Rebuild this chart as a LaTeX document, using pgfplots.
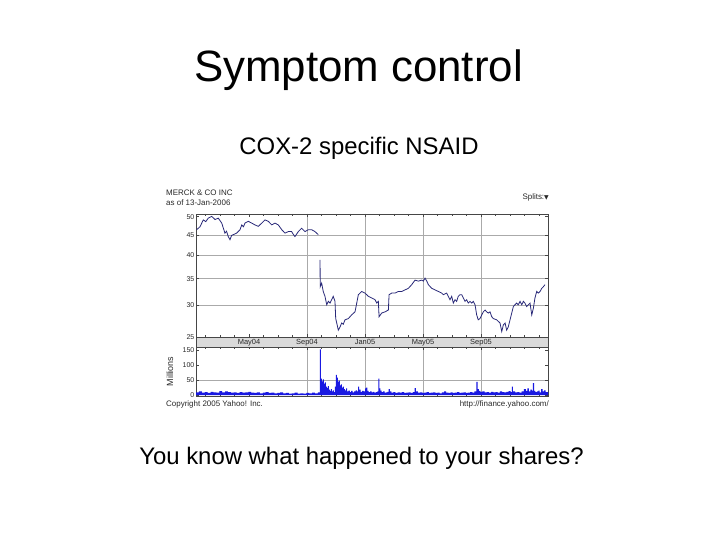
\documentclass[border=0pt]{standalone}
\usepackage{pgfplots}
\pgfplotsset{compat=1.18}
\usepackage{fontspec}
\setmainfont{Liberation Sans}
\newfontfamily\symfont{DejaVu Sans}
\definecolor{priceline}{RGB}{40,40,120}
\definecolor{volblue}{RGB}{25,25,225}
\definecolor{gridgray}{RGB}{170,170,170}
\definecolor{bandgray}{RGB}{218,218,218}
\definecolor{framec}{RGB}{70,70,70}
\definecolor{txtc}{RGB}{40,40,40}

\begin{document}
\begin{tikzpicture}
\path[use as bounding box] (0bp,0bp) rectangle (720bp,540bp);
% slide texts
\node[anchor=base,inner sep=0pt,font=\fontsize{44}{50}\selectfont] at (358.5bp,458bp) {Symptom control};
\node[anchor=base,inner sep=0pt,font=\fontsize{24}{28}\selectfont] at (359bp,385bp) {COX-2 specific NSAID};
\node[anchor=base,inner sep=0pt,font=\fontsize{24}{28}\selectfont] at (361.5bp,75bp) {You know what happened to your shares?};
% chart texts
\node[anchor=west,inner sep=0pt,text=txtc,font=\fontsize{8}{9}\selectfont] at (166bp,347bp) {MERCK \& CO INC};
\node[anchor=west,inner sep=0pt,text=txtc,font=\fontsize{8}{9}\selectfont] at (166bp,337bp) {as of 13-Jan-2006};
\node[anchor=east,inner sep=0pt,text=txtc,font=\fontsize{8}{9}\selectfont] at (549bp,343bp) {Splits:{\symfont\fontsize{6}{7}\selectfont▼}};
\node[anchor=west,inner sep=0pt,text=txtc,font=\fontsize{8}{9}\selectfont] at (166bp,136bp) {Copyright 2005 Yahoo! Inc.};
\node[anchor=east,inner sep=0pt,text=txtc,font=\fontsize{8}{9}\selectfont] at (549bp,136bp) {http://finance.yahoo.com/};
% date band
\fill[bandgray] (196bp,193bp) rectangle (548bp,203bp);
\draw[framec,line width=0.8bp] (196bp,193bp) rectangle (548bp,203bp);

\begin{axis}[
  at={(196bp,203bp)}, anchor=south west, scale only axis,
  width=352bp, height=123bp,
  xmin=0.345, xmax=24.62, ymode=log, ymin=25, ymax=50.8,
  ytick={25,30,35,40,45,50}, yticklabels={25,30,35,40,45,50},
  xtick={4,8,12,16,20}, xticklabels={May04,Sep04,Jan05,May05,Sep05},
  minor xtick={1,2,3,5,6,7,9,10,11,13,14,15,17,18,19,21,22,23,24},
  extra x ticks={8,12,16,20}, extra x tick labels={},
  extra x tick style={grid=major},
  extra y ticks={30,35,40,45}, extra y tick labels={},
  extra y tick style={grid=major},
  grid style={gridgray, line width=0.9bp},
  axis line style={framec, line width=0.8bp},
  tick style={framec, line width=0.5bp},
  major tick length=3bp, minor tick length=2bp,
  tick align=inside,
  yticklabel style={font=\fontsize{7}{8}\selectfont, text=txtc, inner sep=1.5bp},
  xticklabel style={font=\fontsize{7.5}{8}\selectfont, text=txtc, inner sep=0pt, yshift=-2bp},
  /pgf/number format/assume math mode=true,
]
\addplot[priceline, line width=0.8bp] coordinates {
(0.39,46.4) (0.62,47.2) (0.85,49.1) (1.02,48.6) (1.19,49.6) (1.43,50.1) (1.66,49.2) (1.88,49.6)
(2.12,48.2) (2.34,45.5) (2.45,46.0) (2.57,44.6) (2.69,43.8) (2.80,44.9) (2.92,45.1) (3.15,45.5)
(3.38,46.4) (3.50,47.7) (3.62,47.2) (3.72,48.2) (3.95,48.7) (4.19,48.2) (4.41,47.7) (4.64,47.3)
(4.88,48.2) (5.10,49.1) (5.33,48.7) (5.57,47.7) (5.79,48.2) (6.02,47.7) (6.26,46.4) (6.48,45.5)
(6.71,45.9) (6.94,45.9) (7.05,45.2) (7.17,44.6) (7.40,45.9) (7.63,46.8) (7.86,45.9) (8.09,46.4)
(8.32,46.4) (8.55,45.9) (8.66,45.5) (8.78,45.1)
};
\addplot[priceline, line width=0.8bp] coordinates {
(8.90,39.0) (8.91,33.4) (9.01,34.1) (9.12,32.5) (9.24,31.6) (9.36,30.1) (9.47,30.7) (9.59,30.4)
(9.70,31.0) (9.81,31.6) (9.93,30.7) (9.98,27.8) (10.05,27.1) (10.16,26.0) (10.28,26.5) (10.39,27.1)
(10.50,26.9) (10.62,27.6) (10.85,27.8) (11.08,28.4) (11.31,28.9) (11.43,30.4) (11.54,31.9) (11.77,32.5)
(12.00,32.2) (12.23,31.6) (12.46,31.3) (12.69,31.0) (12.81,30.4) (12.92,30.7) (12.97,28.1) (13.15,28.7)
(13.38,28.9) (13.61,29.2) (13.66,31.9) (13.84,32.2) (14.07,32.2) (14.30,32.5) (14.53,32.5) (14.76,32.8)
(14.99,33.1) (15.22,33.8) (15.45,34.7) (15.68,34.5) (15.91,34.7) (16.02,34.5) (16.14,35.1) (16.26,34.5)
(16.37,33.8) (16.60,33.1) (16.83,32.8) (17.06,32.5) (17.29,32.2) (17.40,31.9) (17.63,32.2) (17.86,31.0)
(17.98,31.6) (18.09,30.4) (18.21,31.0) (18.32,30.7) (18.43,31.6) (18.55,31.9) (18.67,31.9) (18.78,31.3)
(18.90,30.7) (19.01,31.0) (19.12,30.4) (19.24,30.7) (19.36,30.4) (19.47,30.7) (19.59,30.1) (19.70,28.4)
(19.81,27.6) (19.93,27.8) (20.05,28.4) (20.16,28.9) (20.28,29.2) (20.39,28.9) (20.50,28.7) (20.62,28.9)
(20.74,28.1) (20.85,27.8) (21.08,27.6) (21.31,27.1) (21.43,25.8) (21.54,26.8) (21.66,27.1) (21.77,26.0)
(21.88,26.5) (22.00,27.6) (22.12,28.7) (22.23,29.8) (22.34,30.1) (22.46,30.4) (22.57,30.1) (22.69,30.7)
(22.81,30.1) (22.92,30.7) (23.03,30.4) (23.15,29.8) (23.26,30.1) (23.38,30.4) (23.50,28.4) (23.61,29.5)
(23.72,31.3) (23.84,32.5) (23.95,32.2) (24.07,32.5) (24.19,33.1) (24.30,33.4) (24.41,33.8)
};
\end{axis}

\begin{axis}[
  at={(196bp,144bp)}, anchor=south west, scale only axis,
  width=352bp, height=49bp,
  xmin=0.345, xmax=24.62, ymin=-3, ymax=160,
  ytick={0,50,100,150},
  xtick={8,12,16,20}, xticklabels={}, xmajorgrids,
  minor xtick={1,2,3,4,5,6,7,9,10,11,13,14,15,17,18,19,21,22,23,24},
  extra y ticks={50}, extra y tick labels={}, extra y tick style={grid=major},
  grid style={gridgray, line width=0.9bp},
  axis line style={framec, line width=0.8bp},
  tick style={framec, line width=0.5bp},
  major tick length=3bp, minor tick length=2bp,
  tick align=inside,
  yticklabel style={font=\fontsize{7}{8}\selectfont, text=txtc, inner sep=1.5bp},
  /pgf/number format/assume math mode=true,
  ylabel={Millions},
  ylabel style={at={(axis description cs:-0.074,0.5)}, anchor=center, font=\fontsize{9}{10}\selectfont, text=txtc, inner sep=0pt},
]
\addplot[const plot, fill=volblue, draw=none] coordinates {
(0.35,9) (0.55,12) (0.75,8) (0.95,10) (1.15,7) (1.35,11) (1.55,9) (1.75,8) (1.95,13) (2.15,9)
(2.35,12) (2.55,10) (2.75,8) (2.95,9) (3.15,7) (3.35,10) (3.55,8) (3.75,9) (3.95,11) (4.15,8)
(4.35,7) (4.55,9) (4.75,6) (4.95,8) (5.15,10) (5.35,7) (5.55,8) (5.75,6) (5.95,7) (6.15,9)
(6.35,6) (6.55,7) (6.75,5) (6.95,6) (7.15,8) (7.35,5) (7.55,6) (7.75,5) (7.95,7) (8.15,6)
(8.35,8) (8.55,6) (8.75,9)
(8.88,152) (8.95,55) (9.02,46) (9.09,52) (9.16,38) (9.23,42) (9.30,28) (9.37,24) (9.44,30) (9.51,18)
(9.58,14) (9.65,20) (9.72,12) (9.79,16) (9.86,10) (9.93,28) (9.99,67) (10.06,58) (10.13,45) (10.20,48)
(10.27,32) (10.34,36) (10.41,25) (10.48,28) (10.55,20) (10.62,16) (10.69,22) (10.76,12) (10.85,15) (10.95,10)
(11.05,14) (11.15,9) (11.25,12) (11.35,16) (11.45,12) (11.52,28) (11.60,18) (11.70,11) (11.80,14) (11.90,12)
(12.00,22) (12.08,25) (12.16,14) (12.25,10) (12.35,12) (12.45,9) (12.55,11) (12.65,8) (12.75,10) (12.85,12)
(12.92,55) (12.99,22) (13.06,15) (13.15,10) (13.25,12) (13.35,8) (13.45,9) (13.55,11) (13.63,20) (13.72,12)
(13.82,8) (13.95,10) (14.10,7) (14.25,9) (14.40,8) (14.55,10) (14.70,7) (14.85,8) (15.00,9) (15.15,7)
(15.30,10) (15.42,23) (15.50,12) (15.65,8) (15.80,9) (15.95,7) (16.10,8) (16.25,10) (16.40,7) (16.55,8)
(16.70,9) (16.85,7) (17.00,8) (17.15,6) (17.30,9) (17.45,12) (17.60,8) (17.75,7) (17.90,9) (18.05,7)
(18.20,8) (18.35,10) (18.50,7) (18.65,8) (18.80,9) (18.95,7) (19.10,8) (19.25,10) (19.40,8) (19.55,12)
(19.68,44) (19.76,20) (19.85,14) (19.95,11) (20.10,12) (20.25,9) (20.40,10) (20.55,8) (20.70,11) (20.85,9)
(21.00,10) (21.15,8) (21.30,12) (21.45,10) (21.60,9) (21.75,11) (21.90,13) (22.05,10) (22.12,28) (22.20,12)
(22.35,9) (22.50,10) (22.65,8) (22.80,12) (22.95,20) (23.10,14) (23.20,22) (23.30,12) (23.40,18) (23.50,15)
(23.58,40) (23.66,14) (23.75,10) (23.85,12) (23.95,15) (24.05,9) (24.15,20) (24.25,12) (24.35,16) (24.45,10)
(24.55,10) (24.62,10)
} \closedcycle;
\end{axis}
\end{tikzpicture}
\end{document}
